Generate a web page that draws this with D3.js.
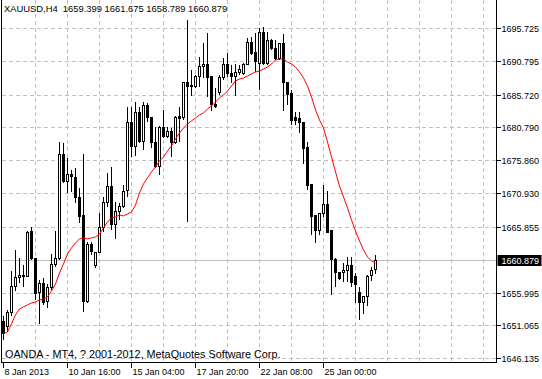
<!DOCTYPE html>
<html>
<head>
<meta charset="utf-8">
<script src="https://cdn.jsdelivr.net/npm/d3@7"></script>
<style>
  html, body { margin: 0; padding: 0; background: #fff; }
  svg { display: block; font-family: "Liberation Sans", Arial, sans-serif; }
</style>
</head>
<body>
<div id="chartContainer"></div>
<script>
// XAUUSD H4 bars
var opens = [1651.60, 1650.85, 1652.95, 1656.85, 1658.20, 1658.35, 1658.35, 1665.11, 1661.05, 1655.95,
  1657.30, 1654.60, 1656.70, 1660.15, 1661.05, 1676.67, 1672.62, 1673.67, 1673.22, 1670.21,
  1667.51, 1654.60, 1663.16, 1660.00, 1661.95, 1665.71, 1669.46, 1671.86, 1666.16, 1668.11,
  1668.86, 1671.26, 1681.47, 1677.87, 1682.97, 1678.62, 1684.02, 1682.22, 1678.47, 1674.87,
  1680.72, 1679.37, 1680.12, 1678.47, 1682.37, 1682.22, 1687.47, 1687.02, 1686.87, 1688.37,
  1689.87, 1690.17, 1688.37, 1684.17, 1685.97, 1688.22, 1690.17, 1688.82, 1688.37, 1688.97,
  1688.82, 1690.32, 1693.48, 1692.12, 1690.47, 1694.98, 1690.47, 1693.78, 1692.58, 1691.22,
  1693.33, 1687.47, 1685.82, 1682.22, 1682.07, 1681.47, 1677.72, 1672.17, 1667.51, 1665.26,
  1667.81, 1669.16, 1665.26, 1660.90, 1658.95, 1658.95, 1659.25, 1660.00, 1658.35, 1655.95,
  1654.45, 1655.35, 1658.50, 1659.399];

var highs = [1652.50, 1653.40, 1659.25, 1662.40, 1661.20, 1660.15, 1665.26, 1665.86, 1661.20, 1657.90,
  1658.20, 1657.30, 1661.80, 1665.26, 1678.62, 1678.47, 1676.22, 1674.42, 1674.72, 1671.71,
  1676.81, 1663.61, 1663.61, 1662.10, 1667.96, 1670.36, 1673.97, 1674.87, 1669.61, 1669.46,
  1672.17, 1683.87, 1683.87, 1684.62, 1683.87, 1684.62, 1684.47, 1682.37, 1680.87, 1681.02,
  1683.42, 1680.87, 1680.72, 1682.52, 1683.87, 1687.62, 1696.93, 1689.42, 1688.67, 1691.37,
  1693.48, 1694.98, 1688.52, 1686.72, 1688.67, 1691.22, 1691.97, 1690.17, 1690.32, 1690.17,
  1690.47, 1694.23, 1694.38, 1694.98, 1695.73, 1695.88, 1695.13, 1694.08, 1693.93, 1693.48,
  1694.83, 1687.62, 1686.42, 1683.12, 1683.12, 1681.62, 1678.62, 1672.17, 1667.66, 1667.96,
  1672.17, 1671.26, 1665.41, 1661.20, 1659.10, 1660.45, 1661.35, 1661.35, 1658.95, 1656.85,
  1655.50, 1658.65, 1659.85, 1661.675];

var lows = [1648.90, 1650.10, 1652.50, 1656.25, 1657.45, 1656.85, 1658.35, 1660.90, 1654.90, 1651.30,
  1654.15, 1653.70, 1656.40, 1659.85, 1660.90, 1672.47, 1670.96, 1671.11, 1669.46, 1666.46,
  1653.10, 1654.45, 1661.65, 1659.70, 1661.95, 1665.11, 1668.86, 1665.41, 1664.06, 1666.91,
  1668.71, 1670.36, 1676.37, 1676.52, 1678.47, 1677.42, 1681.62, 1677.72, 1674.72, 1673.67,
  1679.22, 1679.22, 1676.37, 1678.32, 1678.62, 1681.92, 1666.61, 1685.52, 1686.72, 1686.87,
  1688.22, 1685.37, 1683.27, 1683.72, 1685.67, 1687.92, 1688.37, 1687.47, 1685.52, 1688.67,
  1688.67, 1690.17, 1691.67, 1689.12, 1686.42, 1690.17, 1690.17, 1692.42, 1690.92, 1690.92,
  1683.27, 1684.17, 1681.17, 1681.17, 1679.97, 1675.32, 1671.41, 1664.66, 1663.46, 1664.66,
  1667.36, 1664.96, 1655.65, 1656.85, 1657.90, 1657.60, 1657.60, 1656.85, 1654.45, 1651.90,
  1652.80, 1654.00, 1657.75, 1658.789];

var closes = [1649.80, 1652.95, 1656.85, 1658.20, 1658.50, 1658.50, 1664.96, 1661.05, 1655.80, 1657.30,
  1654.45, 1656.70, 1660.15, 1661.05, 1676.67, 1672.62, 1673.67, 1673.37, 1670.21, 1667.36,
  1654.60, 1663.16, 1662.10, 1661.95, 1665.71, 1669.46, 1671.86, 1666.16, 1668.11, 1668.86,
  1671.11, 1681.47, 1677.87, 1682.97, 1678.62, 1684.02, 1682.22, 1678.47, 1674.87, 1680.72,
  1679.37, 1680.12, 1678.47, 1682.22, 1682.07, 1687.47, 1686.87, 1686.87, 1688.37, 1689.87,
  1690.17, 1688.22, 1684.17, 1683.87, 1688.22, 1690.17, 1688.82, 1688.37, 1688.97, 1689.42,
  1690.32, 1693.48, 1691.97, 1690.77, 1694.98, 1690.47, 1693.78, 1692.58, 1691.22, 1693.33,
  1687.47, 1685.67, 1681.77, 1681.77, 1681.47, 1677.57, 1672.02, 1667.36, 1665.26, 1667.81,
  1669.16, 1664.96, 1660.90, 1658.95, 1658.05, 1659.25, 1660.00, 1657.45, 1657.15, 1654.45,
  1655.35, 1658.35, 1659.25, 1660.879];

// moving average (red line)
var maValues = [1649.80, 1650.10, 1651.30, 1652.65, 1653.55, 1653.85, 1654.15, 1654.45, 1654.60, 1654.90,
  1655.05, 1655.35, 1656.25, 1657.30, 1658.95, 1660.30, 1661.80, 1662.71, 1663.46, 1664.06,
  1664.21, 1664.06, 1664.21, 1664.36, 1664.81, 1665.71, 1666.61, 1667.21, 1667.36, 1667.66,
  1667.51, 1667.81, 1668.11, 1669.16, 1670.96, 1672.32, 1673.22, 1674.12, 1674.87, 1675.77,
  1676.37, 1677.27, 1678.02, 1679.07, 1679.97, 1680.72, 1681.32, 1681.77, 1682.22, 1682.67,
  1682.97, 1683.57, 1684.02, 1684.62, 1685.22, 1685.67, 1686.27, 1687.02, 1687.77, 1688.07,
  1688.22, 1688.52, 1688.82, 1689.12, 1689.27, 1689.57, 1689.87, 1690.32, 1690.92, 1691.07,
  1691.07, 1690.62, 1690.32, 1689.87, 1689.12, 1688.22, 1687.02, 1685.37, 1683.42, 1681.92,
  1680.72, 1678.62, 1676.37, 1674.12, 1672.02, 1670.36, 1668.71, 1666.91, 1665.26, 1663.76,
  1662.40, 1661.35, 1660.75, 1660.45];

var priceTicks = [1695.725, 1690.795, 1685.720, 1680.790, 1675.860, 1670.930, 1665.855, 1655.995, 1651.065, 1646.135];
var lastPrice = 1660.879;
var dateBars = [0, 16, 32, 48, 64, 80];
var dateLabels = ["8 Jan 2013", "10 Jan 16:00", "15 Jan 04:00", "17 Jan 20:00", "22 Jan 08:00", "25 Jan 00:00"];
var titleText = "XAUUSD,H4  1659.399 1661.675 1658.789 1660.879";
var copyrightText = "OANDA - MT4, ? 2001-2012, MetaQuotes Software Corp.";

var width = 542, height = 379;
var plotRight = 496.5, plotBottom = 362.5, plotLeft = 1.5;

var svg = d3.select("#chartContainer")
  .append("svg")
    .attr("width", width)
    .attr("height", height);

var x = d3.scaleLinear().domain([0, 120]).range([3.5, 483.5]);
var y = d3.scaleLinear().domain([1646.135, 1695.725]).range([358.3, 28]);

var bars = d3.range(closes.length).map(function(i) {
  return { i: i, o: opens[i], h: highs[i], l: lows[i], c: closes[i] };
});

// grid
var grid = svg.append("g").attr("shape-rendering", "crispEdges");
grid.selectAll(".hgrid")
  .data(priceTicks)
  .enter().append("line")
    .attr("x1", plotLeft).attr("x2", plotRight)
    .attr("y1", function(d) { return Math.round(y(d)) + 0.5; })
    .attr("y2", function(d) { return Math.round(y(d)) + 0.5; })
    .attr("stroke", "#c0c0c0")
    .attr("stroke-dasharray", "4,3");
grid.selectAll(".vgrid")
  .data(d3.range(8, 121, 8))
  .enter().append("line")
    .attr("x1", function(d) { return x(d); })
    .attr("x2", function(d) { return x(d); })
    .attr("y1", 0).attr("y2", plotBottom)
    .attr("stroke", "#c0c0c0")
    .attr("stroke-dasharray", "4,3");

// bid line
grid.append("line")
  .attr("x1", plotLeft).attr("x2", plotRight)
  .attr("y1", Math.round(y(lastPrice)) + 0.5)
  .attr("y2", Math.round(y(lastPrice)) + 0.5)
  .attr("stroke", "#c0c0c0");

// candles
var candles = svg.append("g").attr("shape-rendering", "crispEdges");
candles.selectAll(".wick")
  .data(bars)
  .enter().append("line")
    .attr("x1", function(d) { return x(d.i); })
    .attr("x2", function(d) { return x(d.i); })
    .attr("y1", function(d) { return y(d.h); })
    .attr("y2", function(d) { return y(d.l); })
    .attr("stroke", "#000");
candles.selectAll(".body")
  .data(bars)
  .enter().append("rect")
    .attr("x", function(d) { return x(d.i) - 1; })
    .attr("width", 2)
    .attr("y", function(d) { return y(Math.max(d.o, d.c)); })
    .attr("height", function(d) { return Math.max(1, Math.abs(y(d.o) - y(d.c))); })
    .attr("fill", function(d) { return d.c >= d.o ? "#fff" : "#000"; })
    .attr("stroke", "#000");

// moving average
svg.append("path")
  .datum(maValues)
  .attr("fill", "none")
  .attr("stroke", "#ff0000")
  .attr("stroke-width", 1)
  .attr("d", d3.line()
    .x(function(d, i) { return x(i); })
    .y(function(d) { return y(d); }));

// frame
var frame = svg.append("g").attr("shape-rendering", "crispEdges").attr("stroke", "#000").attr("fill", "none");
frame.append("path").attr("d", "M" + plotLeft + ",0V" + plotBottom + "H" + plotRight + "V0");

// right price axis
var yAxis = svg.append("g").attr("font-size", 9);
yAxis.selectAll(".tick")
  .data(priceTicks)
  .enter().append("line")
    .attr("shape-rendering", "crispEdges")
    .attr("x1", plotRight).attr("x2", plotRight + 4)
    .attr("y1", function(d) { return Math.round(y(d)) + 0.5; })
    .attr("y2", function(d) { return Math.round(y(d)) + 0.5; })
    .attr("stroke", "#000");
yAxis.selectAll("text")
  .data(priceTicks)
  .enter().append("text")
    .attr("x", plotRight + 5)
    .attr("y", function(d) { return Math.round(y(d)) + 3.5; })
    .text(function(d) { return d3.format(".3f")(d); });

// current price label
var py = Math.round(y(lastPrice));
yAxis.append("rect")
  .attr("x", plotRight + 1).attr("y", py - 5)
  .attr("width", 44).attr("height", 11)
  .attr("fill", "#000");
yAxis.append("text")
  .attr("x", plotRight + 5).attr("y", py + 3.5)
  .attr("fill", "#fff")
  .text(d3.format(".3f")(lastPrice));

// bottom time axis
var xAxis = svg.append("g").attr("font-size", 9);
xAxis.selectAll("line")
  .data(dateBars)
  .enter().append("line")
    .attr("shape-rendering", "crispEdges")
    .attr("x1", function(d) { return x(d) - 0.5; })
    .attr("x2", function(d) { return x(d) - 0.5; })
    .attr("y1", plotBottom).attr("y2", plotBottom + 5)
    .attr("stroke", "#000");
xAxis.selectAll("text")
  .data(dateBars)
  .enter().append("text")
    .attr("x", function(d) { return x(d) + 1; })
    .attr("y", 375)
    .text(function(d, i) { return dateLabels[i]; });

// labels
svg.append("text")
  .attr("x", 4).attr("y", 12)
  .attr("font-size", 9.4)
  .attr("xml:space", "preserve")
  .style("white-space", "pre")
  .text(titleText);
svg.append("text")
  .attr("x", 5).attr("y", 358)
  .attr("font-size", 10.8)
  .text(copyrightText);
</script>
</body>
</html>
